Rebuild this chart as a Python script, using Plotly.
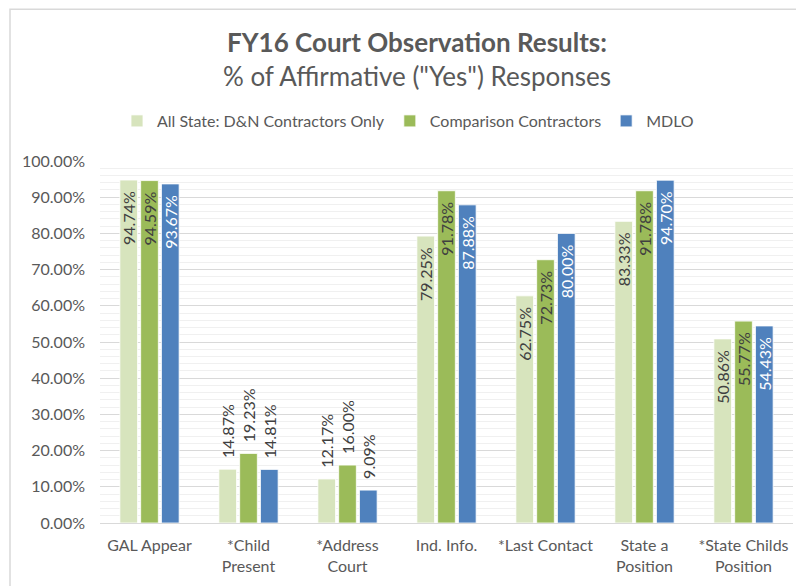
import plotly.graph_objects as go

categories = ["GAL Appear", "*Child<br>Present", "*Address<br>Court", "Ind. Info.",
              "*Last Contact", "State a<br>Position", "*State Childs<br>Position"]
series_names = ["All State: D&N Contractors Only", "Comparison Contractors", "MDLO"]
all_state = [0.9474, 0.1487, 0.1217, 0.7925, 0.6275, 0.8333, 0.5086]
comparison = [0.9459, 0.1923, 0.1600, 0.9178, 0.7273, 0.9178, 0.5577]
mdlo = [0.9367, 0.1481, 0.0909, 0.8788, 0.8000, 0.9470, 0.5443]
y_ticks = [i / 10 for i in range(11)]

colors = ["#d7e4bd", "#9bbb59", "#4f81bd"]
inside_colors = ["#404040", "#404040", "#ffffff"]
FONT = "Lato"
W, H = 796, 578  # page body has a small margin
PAD = "\u00a0\u00a0"

fig = go.Figure()
for name, vals, col, icol in zip(series_names, [all_state, comparison, mdlo], colors, inside_colors):
    fig.add_trace(go.Bar(
        name=name, x=categories, y=vals,
        marker=dict(color=col, line=dict(color="#ffffff", width=0.8)),
        text=[PAD + f"{v:.2%}" + PAD for v in vals],
        textposition=["outside" if v < 0.3 else "inside" for v in vals],
        insidetextanchor="end",
        textangle=-90,
        constraintext="none",
        cliponaxis=False,
        insidetextfont=dict(color=icol, size=16, family=FONT),
        outsidetextfont=dict(color="#404040", size=16, family=FONT),
    ))

fig.update_layout(
    width=W, height=H,
    paper_bgcolor="white", plot_bgcolor="white",
    margin=dict(l=92, r=11, t=153, b=61),
    barmode="group", bargap=0.37, bargroupgap=0.15,
    font=dict(family=FONT, color="#595959", size=15),
    title=dict(
        text="<b>FY16 Court Observation Results:</b><br>% of Affirmative (\"Yes\") Responses",
        x=409 / W, xanchor="center", xref="container",
        y=1 - 44 / H, yanchor="top", yref="container",
        font=dict(size=26, color="#595959", family=FONT),
    ),
    legend=dict(
        orientation="h", x=400 / W, xanchor="center", xref="container",
        y=1 - 113 / H, yanchor="middle", yref="container",
        font=dict(size=16, color="#595959", family=FONT),
        itemwidth=30, tracegroupgap=0,
    ),
    showlegend=True,
)
fig.update_xaxes(
    showline=True, linecolor="#d9d9d9", linewidth=1,
    ticks="", tickfont=dict(size=16, color="#595959", family=FONT),
    showgrid=False, ticklabelstandoff=8,
)
fig.update_yaxes(
    range=[0, 1], tickvals=y_ticks, tickformat=".2%",
    showgrid=True, gridcolor="#d9d9d9", gridwidth=1,
    minor=dict(dtick=0.02, showgrid=True, gridcolor="#f0f0f0", gridwidth=1),
    zeroline=False, showline=False, ticks="",
    tickfont=dict(size=16, color="#595959", family=FONT),
    ticklabelstandoff=14,
)
fig.add_shape(type="rect", xref="paper", yref="paper",
              x0=(2 - 92) / 693, x1=1.05, y0=-0.3, y1=(517 - 0.5) / 364,
              line=dict(color="#d9d9d9", width=1.5), layer="below")

fig.write_html("out.html")
